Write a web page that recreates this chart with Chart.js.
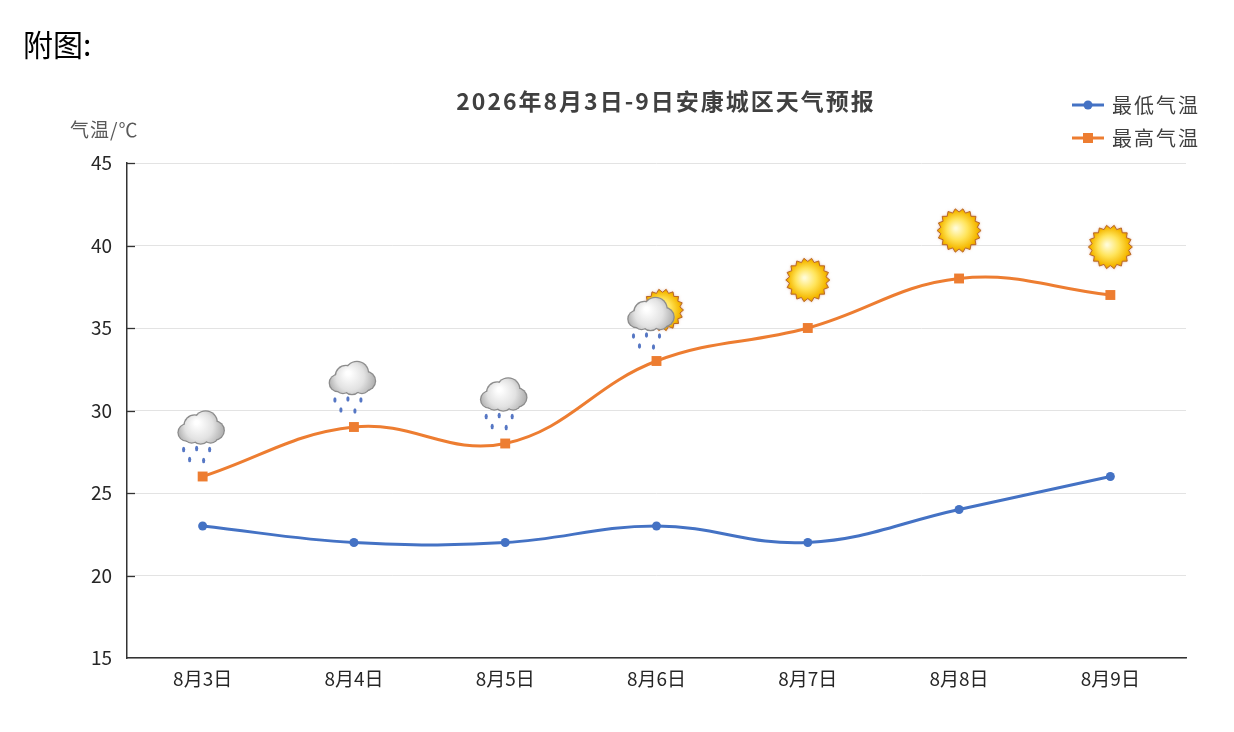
<!DOCTYPE html>
<html>
<head>
<meta charset="utf-8">
<script src="https://cdn.jsdelivr.net/npm/chart.js@4.4.1/dist/chart.umd.min.js"></script>
<style>
	body { margin: 0; background: #fff; }
	#wrap { position: relative; width: 1234px; height: 732px; }
</style>
</head>
<body>
<div id="wrap"><canvas id="canvaTiempo" width="1234" height="732"></canvas></div>
<script>
let dias = ["8月3日", "8月4日", "8月5日", "8月6日", "8月7日", "8月8日", "8月9日"];
let minima = [23, 22, 22, 23, 22, 24, 26];
let maxima = [26, 29, 28, 33, 35, 38, 37];
let tiempo = ["rain", "rain", "rain", "sunrain", "sun", "sun", "sun"];
let titulo = "2026年8月3日-9日安康城区天气预报";
let nombres = ["最低气温", "最高气温"];
let colorMin = "#4472c4";
let colorMax = "#ed7d31";
let fuente = "'Noto Sans CJK SC', 'Noto Sans', sans-serif";

function dibujaSol(ctx, x, y, r) {
	let puntas = 18;
	ctx.save();
	ctx.shadowColor = "rgba(190, 80, 20, 0.55)";
	ctx.shadowBlur = 3;
	ctx.beginPath();
	for (let i = 0; i < puntas * 2; i++) {
		let a = (Math.PI * i) / puntas;
		let rr = i % 2 == 0 ? r : r * 0.84;
		ctx.lineTo(x + rr * Math.cos(a), y + rr * Math.sin(a));
	}
	ctx.closePath();
	let g = ctx.createRadialGradient(x - r * 0.15, y - r * 0.1, 1, x, y, r);
	g.addColorStop(0, "#fffbd6");
	g.addColorStop(0.45, "#ffe45a");
	g.addColorStop(0.85, "#f5b800");
	g.addColorStop(1, "#e39400");
	ctx.fillStyle = g;
	ctx.fill();
	ctx.shadowBlur = 0;
	ctx.strokeStyle = "#b9682a";
	ctx.lineWidth = 1;
	ctx.stroke();
	ctx.restore();
}

function dibujaNube(ctx, x, y, lluvia) {
	let circulos = [[-14, 4, 8], [-6, -3, 10], [5, -6, 11], [14, 2, 9], [0, 6, 9], [-9, 7, 7], [10, 7, 7]];
	ctx.save();
	if (lluvia) {
		// gotas de lluvia
		ctx.fillStyle = "#5677c4";
		let gotas = [[-17, 21], [-4, 20], [9, 21], [-11, 31], [3, 32]];
		gotas.forEach(function (p) {
			ctx.beginPath();
			ctx.ellipse(x + p[0], y + p[1], 1.6, 2.8, 0, 0, Math.PI * 2);
			ctx.fill();
		});
	}
	ctx.fillStyle = "#8c8c8c";
	circulos.forEach(function (c) {
		ctx.beginPath();
		ctx.arc(x + c[0], y + c[1], c[2] + 1.3, 0, Math.PI * 2);
		ctx.fill();
	});
	let g = ctx.createRadialGradient(x - 4, y - 6, 2, x, y, 24);
	g.addColorStop(0, "#ffffff");
	g.addColorStop(0.55, "#e2e2e2");
	g.addColorStop(1, "#ababab");
	ctx.fillStyle = g;
	circulos.forEach(function (c) {
		ctx.beginPath();
		ctx.arc(x + c[0], y + c[1], c[2], 0, Math.PI * 2);
		ctx.fill();
	});
	ctx.restore();
}

// textos, leyenda, marcas del eje y los iconos del tiempo
const extras = {
	id: "extras",
	afterDatasetsDraw(chart) {
		let ctx = chart.ctx;
		let xs = chart.scales.x;
		let ys = chart.scales.y;
		let area = chart.chartArea;
		ctx.save();

		// marcas cortas hacia dentro en el eje y
		ctx.strokeStyle = "#333";
		ctx.lineWidth = 1.3;
		ys.ticks.forEach(function (t) {
			if (t.value == ys.min) return;
			let py = Math.round(ys.getPixelForValue(t.value)) + 0.5;
			ctx.beginPath();
			ctx.moveTo(area.left, py);
			ctx.lineTo(area.left + 8, py);
			ctx.stroke();
		});

		ctx.fillStyle = "#000";
		ctx.font = "30px " + fuente;
		ctx.textBaseline = "middle";
		ctx.textAlign = "left";
		ctx.fillText("附图:", 23, 45);

		ctx.fillStyle = "#404040";
		ctx.font = "bold 23px " + fuente;
		ctx.letterSpacing = "2px";
		ctx.textAlign = "center";
		ctx.fillText(titulo, 666, 101);

		ctx.fillStyle = "#595959";
		ctx.font = "19px " + fuente;
		ctx.letterSpacing = "1px";
		ctx.textAlign = "left";
		ctx.fillText("气温/℃", 70, 130);

		// leyenda
		let colores = [colorMin, colorMax];
		ctx.font = "20px " + fuente;
		ctx.letterSpacing = "2px";
		for (let i = 0; i < 2; i++) {
			let ly = 105 + i * 33;
			ctx.strokeStyle = colores[i];
			ctx.lineWidth = 3;
			ctx.beginPath();
			ctx.moveTo(1072, ly);
			ctx.lineTo(1104, ly);
			ctx.stroke();
			ctx.fillStyle = colores[i];
			ctx.beginPath();
			if (i == 0) ctx.arc(1088, ly, 4.5, 0, Math.PI * 2);
			else ctx.rect(1083, ly - 5, 10, 10);
			ctx.fill();
			ctx.fillStyle = "#404040";
			ctx.fillText(nombres[i], 1112, ly);
		}
		ctx.letterSpacing = "0px";

		// iconos sobre la máxima
		tiempo.forEach(function (t, i) {
			let px = xs.getPixelForValue(i);
			let py = ys.getPixelForValue(maxima[i]) - 48;
			if (t == "sun") {
				dibujaSol(ctx, px, py, 22);
			} else if (t == "sunrain") {
				dibujaSol(ctx, px + 6, py - 3, 21);
				dibujaNube(ctx, px - 6, py + 2, true);
			} else {
				dibujaNube(ctx, px - 2, py, true);
			}
		});
		ctx.restore();
	}
};

const ctx = document.getElementById("canvaTiempo");
const grafica = new Chart(ctx, {
	type: "line",
	data: {
		labels: dias,
		datasets: [
			{
				label: nombres[0],
				data: minima,
				borderColor: colorMin,
				backgroundColor: colorMin,
				borderWidth: 3,
				tension: 0.4,
				pointStyle: "circle",
				pointRadius: 4.5,
				pointBorderWidth: 0
			},
			{
				label: nombres[1],
				data: maxima,
				borderColor: colorMax,
				backgroundColor: colorMax,
				borderWidth: 3,
				tension: 0.4,
				pointStyle: "rect",
				pointRadius: 7,
				pointBorderWidth: 0
			}
		]
	},
	options: {
		responsive: false,
		animation: false,
		layout: { padding: { top: 163, right: 48, left: 0, bottom: 0 } },
		plugins: {
			legend: { display: false },
			title: { display: false },
			tooltip: { enabled: false }
		},
		scales: {
			x: {
				offset: true,
				grid: { display: false, drawTicks: false },
				border: { display: true, color: "#333", width: 1.5 },
				ticks: { color: "#262626", font: { family: fuente, size: 19 }, padding: 9 },
				afterFit: function (s) { s.height = 74; }
			},
			y: {
				min: 15,
				max: 45,
				ticks: { stepSize: 5, color: "#262626", font: { family: fuente, size: 19 }, padding: 15 },
				grid: { color: "#e3e3e3", drawTicks: false },
				border: { display: true, color: "#333", width: 1.5 },
				afterFit: function (s) { s.width = 127; }
			}
		}
	},
	plugins: [extras]
});
</script>
</body>
</html>
